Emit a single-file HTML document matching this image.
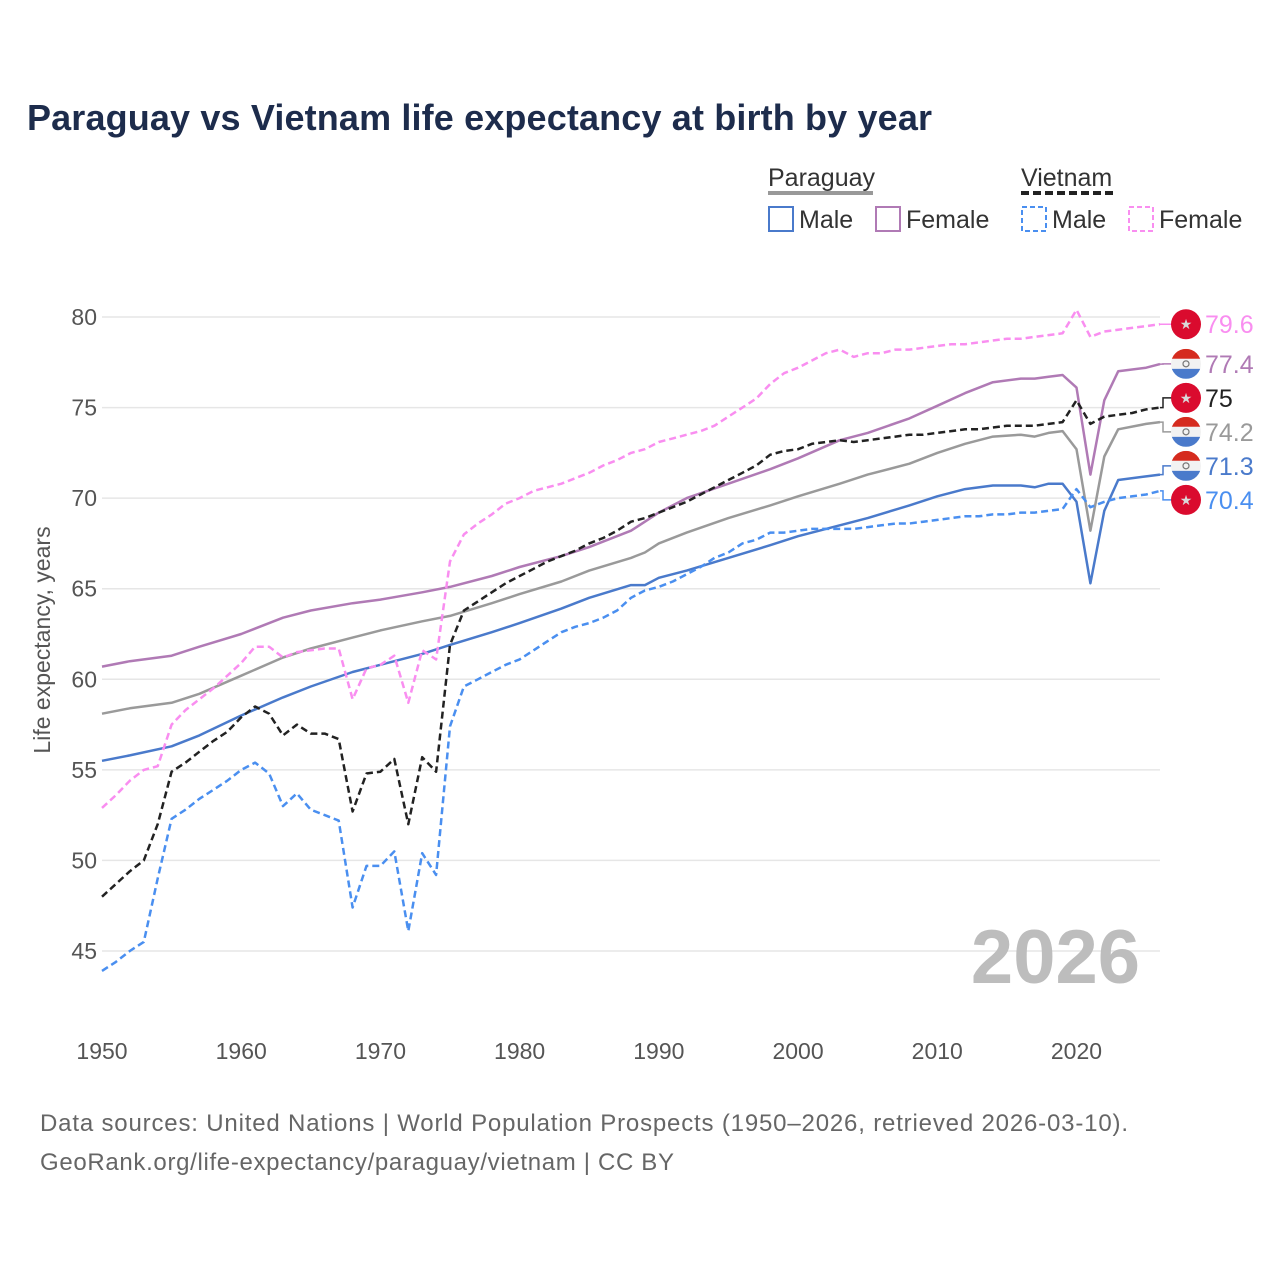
<!DOCTYPE html>
<html><head><meta charset="utf-8"><style>
html,body{margin:0;padding:0;background:#fff;}
body{width:1280px;height:1280px;overflow:hidden;font-family:"Liberation Sans",sans-serif;}
</style></head><body>
<svg id="chart" width="1280" height="1280" xmlns="http://www.w3.org/2000/svg" font-family="Liberation Sans, sans-serif">
<text x="27" y="130" font-size="36" font-weight="bold" fill="#1d2c4c" textLength="905">Paraguay vs Vietnam life expectancy at birth by year</text>
<g font-size="25" fill="#333">
  <text x="768" y="186">Paraguay</text>
  <line x1="768" y1="193" x2="873" y2="193" stroke="#999" stroke-width="4"/>
  <text x="1021" y="186">Vietnam</text>
  <line x1="1021" y1="193" x2="1117" y2="193" stroke="#222" stroke-width="4" stroke-dasharray="8,4"/>
  <g><rect x="769" y="207" width="24" height="24" fill="none" stroke="#4a7acb" stroke-width="2"/><text x="799" y="228">Male</text></g>
  <g><rect x="876" y="207" width="24" height="24" fill="none" stroke="#b07ab5" stroke-width="2"/><text x="906" y="228">Female</text></g>
  <g><rect x="1022" y="207" width="24" height="24" fill="none" stroke="#4a8ff0" stroke-width="2" stroke-dasharray="5,3"/><text x="1052" y="228">Male</text></g>
  <g><rect x="1129" y="207" width="24" height="24" fill="none" stroke="#f98ef0" stroke-width="2" stroke-dasharray="5,3"/><text x="1159" y="228">Female</text></g>
</g>
<g id="grid"></g>
<g id="yticks"></g>
<g id="xticks"></g>
<text transform="translate(50,640) rotate(-90)" text-anchor="middle" font-size="23" fill="#555">Life expectancy, years</text>
<text x="1140" y="983" text-anchor="end" font-size="76" font-weight="bold" fill="#bdbdbd">2026</text>
<g id="series"></g>
<g id="endlabels"></g>
<text x="40" y="1131" font-size="24" fill="#666" textLength="1088">Data sources: United Nations | World Population Prospects (1950–2026, retrieved 2026-03-10).</text>
<text x="40" y="1170" font-size="24" fill="#666" textLength="634">GeoRank.org/life-expectancy/paraguay/vietnam | CC BY</text>
</svg>
<script>
const yTicks = [45,50,55,60,65,70,75,80];
const xTicks = [1950,1960,1970,1980,1990,2000,2010,2020];
const paraYears = [1950,1952,1955,1957,1960,1963,1965,1968,1970,1973,1975,1978,1980,1983,1985,1988,1989,1990,1992,1995,1998,2000,2003,2005,2008,2010,2012,2014,2016,2017,2018,2019,2020,2021,2022,2023,2025,2026];
const paraMale = [55.5,55.8,56.3,56.9,58.0,59.0,59.6,60.4,60.8,61.4,61.9,62.6,63.1,63.9,64.5,65.2,65.2,65.6,66.0,66.7,67.4,67.9,68.5,68.9,69.6,70.1,70.5,70.7,70.7,70.6,70.8,70.8,69.8,65.3,69.3,71.0,71.2,71.3];
const paraFemale = [60.7,61.0,61.3,61.8,62.5,63.4,63.8,64.2,64.4,64.8,65.1,65.7,66.2,66.8,67.3,68.2,68.7,69.2,70.0,70.8,71.6,72.2,73.2,73.6,74.4,75.1,75.8,76.4,76.6,76.6,76.7,76.8,76.1,71.3,75.4,77.0,77.2,77.4];
const paraTotal = [58.1,58.4,58.7,59.2,60.2,61.2,61.7,62.3,62.7,63.2,63.5,64.2,64.7,65.4,66.0,66.7,67.0,67.5,68.1,68.9,69.6,70.1,70.8,71.3,71.9,72.5,73.0,73.4,73.5,73.4,73.6,73.7,72.7,68.2,72.3,73.8,74.1,74.2];
const vnYears = [];
for (let y = 1950; y <= 2026; y++) vnYears.push(y);
const vnTotal = [48.0,48.7,49.4,50.0,52.0,54.9,55.4,56.0,56.6,57.1,57.9,58.5,58.1,56.9,57.5,57.0,57.0,56.7,52.7,54.8,54.9,55.6,52.0,55.7,54.9,61.9,63.8,64.3,64.8,65.3,65.7,66.1,66.5,66.8,67.1,67.5,67.8,68.2,68.7,68.9,69.2,69.5,69.8,70.2,70.6,71.0,71.4,71.8,72.4,72.6,72.7,73.0,73.1,73.2,73.1,73.2,73.3,73.4,73.5,73.5,73.6,73.7,73.8,73.8,73.9,74.0,74.0,74.0,74.1,74.2,75.4,74.1,74.5,74.6,74.7,74.9,75.0];
const vnMale = [43.9,44.4,45.0,45.5,49.0,52.3,52.8,53.4,53.9,54.4,55.0,55.4,54.8,53.0,53.7,52.8,52.5,52.2,47.4,49.7,49.7,50.5,46.1,50.4,49.2,57.4,59.6,60.0,60.4,60.8,61.1,61.6,62.1,62.6,62.9,63.1,63.4,63.8,64.5,64.9,65.1,65.4,65.8,66.2,66.7,67.0,67.5,67.7,68.1,68.1,68.2,68.3,68.3,68.3,68.3,68.4,68.5,68.6,68.6,68.7,68.8,68.9,69.0,69.0,69.1,69.1,69.2,69.2,69.3,69.4,70.5,69.5,69.8,70.0,70.1,70.2,70.4];
const vnFemale = [52.9,53.6,54.4,55.0,55.2,57.5,58.3,58.9,59.5,60.2,60.9,61.8,61.8,61.2,61.5,61.6,61.7,61.7,58.9,60.6,60.8,61.3,58.7,61.6,61.1,66.5,68.0,68.6,69.1,69.7,70.0,70.4,70.6,70.8,71.1,71.4,71.8,72.1,72.5,72.7,73.1,73.3,73.5,73.7,74.0,74.5,75.0,75.5,76.3,76.9,77.2,77.6,78.0,78.2,77.8,78.0,78.0,78.2,78.2,78.3,78.4,78.5,78.5,78.6,78.7,78.8,78.8,78.9,79.0,79.1,80.4,78.9,79.2,79.3,79.4,79.5,79.6];

const NS = "http://www.w3.org/2000/svg";
const X0 = 102, X1 = 1160, Y80 = 317, Y45 = 951;
const xs = yr => X0 + (yr - 1950) * (X1 - X0) / 76;
const ys = v => Y80 + (80 - v) * (Y45 - Y80) / 35;
function mk(tag, attrs, parent) {
  const e = document.createElementNS(NS, tag);
  for (const k in attrs) e.setAttribute(k, attrs[k]);
  parent.appendChild(e);
  return e;
}
const grid = document.getElementById('grid');
const yt = document.getElementById('yticks');
yTicks.forEach(t => {
  const l = mk('line', {x1: X0, x2: X1, y1: ys(t), y2: ys(t), stroke: '#e6e6e6', 'stroke-width': 1.5}, grid);
  
  
  const tx = mk('text', {x: 97, y: ys(t) + 8, 'text-anchor': 'end', 'font-size': 23, fill: '#555'}, yt);
  tx.textContent = t;
  
  
});
const xt = document.getElementById('xticks');
xTicks.forEach(t => {
  const tx = mk('text', {x: xs(t), y: 1059, 'text-anchor': 'middle', 'font-size': 23, fill: '#555'}, xt);
  tx.textContent = t;
  
  
});
const series = [
  {name: 'paraguay-total', yrs: paraYears, vals: paraTotal, color: '#9a9a9a', dash: '', flag: 'py'},
  {name: 'paraguay-male', yrs: paraYears, vals: paraMale, color: '#4a7acb', dash: '', flag: 'py'},
  {name: 'paraguay-female', yrs: paraYears, vals: paraFemale, color: '#b07ab5', dash: '', flag: 'py'},
  {name: 'vietnam-male', yrs: vnYears, vals: vnMale, color: '#4a8ff0', dash: '7,4', flag: 'vn'},
  {name: 'vietnam-female', yrs: vnYears, vals: vnFemale, color: '#f98ef0', dash: '7,4', flag: 'vn'},
  {name: 'vietnam-total', yrs: vnYears, vals: vnTotal, color: '#222222', dash: '7,4', flag: 'vn'}
];
const sg = document.getElementById('series');
series.forEach(s => {
  const pts = s.yrs.map((y, i) => xs(y).toFixed(1) + ',' + ys(s.vals[i]).toFixed(1)).join(' ');
  const p = mk('polyline', {points: pts, fill: 'none', stroke: s.color, 'stroke-width': 2.5, 'stroke-dasharray': s.dash, 'stroke-linejoin': 'round'}, sg);
  
  
});
// end labels: cluster-centering collision avoidance
const GAP = 34;
const ends = series.map(s => ({s, v: s.vals[s.vals.length - 1]}));
ends.sort((a, b) => b.v - a.v);
let clusters = ends.map(e => ({items: [e], center: ys(e.v)}));
let changed = true;
while (changed) {
  changed = false;
  for (let i = 0; i < clusters.length - 1; i++) {
    const a = clusters[i], b = clusters[i + 1];
    const aBottom = a.center + (a.items.length - 1) * GAP / 2;
    const bTop = b.center - (b.items.length - 1) * GAP / 2;
    if (bTop - aBottom < GAP) {
      const items = a.items.concat(b.items);
      const center = items.reduce((s, e) => s + ys(e.v), 0) / items.length;
      clusters.splice(i, 2, {items, center});
      changed = true;
      break;
    }
  }
}
clusters.forEach(c => c.items.forEach((e, i) => { e.ly = c.center + (i - (c.items.length - 1) / 2) * GAP; }));
const eg = document.getElementById('endlabels');
ends.forEach(e => {
  const g = mk('g', {}, eg);
  
  
  const y0 = ys(e.v);
  mk('polyline', {points: `${X1},${y0} 1163,${y0} 1163,${e.ly} 1172,${e.ly}`, fill: 'none', stroke: e.s.color, 'stroke-width': 1.5}, g);
  const cx = 1186, cy = e.ly, r = 15;
  if (e.s.flag === 'vn') {
    mk('circle', {cx, cy, r, fill: '#da0b2e'}, g);
    mk('text', {x: cx, y: cy + 5, 'text-anchor': 'middle', 'font-size': 14, fill: '#d9d9d9'}, g).textContent = '★';
  } else {
    const id = 'clip' + e.s.name;
    const cp = mk('clipPath', {id}, g);
    mk('circle', {cx, cy, r}, cp);
    const fg = mk('g', {'clip-path': `url(#${id})`}, g);
    mk('rect', {x: cx - r, y: cy - r, width: 30, height: 10, fill: '#d52b1e'}, fg);
    mk('rect', {x: cx - r, y: cy - 5, width: 30, height: 10, fill: '#f2f2f2'}, fg);
    mk('rect', {x: cx - r, y: cy + 5, width: 30, height: 10, fill: '#4a7acb'}, fg);
    mk('circle', {cx, cy, r: 3, fill: 'none', stroke: '#777', 'stroke-width': 1.2}, fg);
  }
  const t = mk('text', {x: 1205, y: e.ly + 9, 'font-size': 25, fill: e.s.color}, g);
  t.textContent = e.v;
});
</script>
</body></html>
